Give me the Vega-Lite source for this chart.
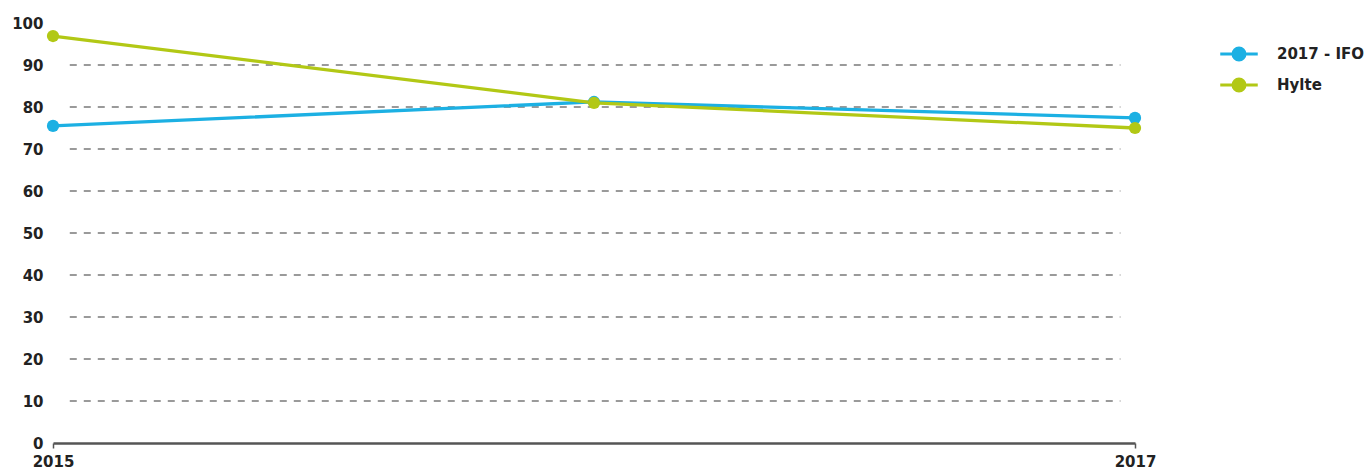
{
  "$schema": "https://vega.github.io/schema/vega-lite/v6.json",
  "width": 1082,
  "height": 420,
  "autosize": {"type": "none"},
  "padding": {"left": 53, "top": 23, "right": 234, "bottom": 27},
  "background": "white",
  "config": {
    "view": {"stroke": null},
    "font": "DejaVu Sans"
  },
  "datasets": {
    "series": [
      {"year": 2015, "value": 75.5, "series": "2017 - IFO"},
      {"year": 2016, "value": 81.2, "series": "2017 - IFO"},
      {"year": 2017, "value": 77.4, "series": "2017 - IFO"},
      {"year": 2015, "value": 96.9, "series": "Hylte"},
      {"year": 2016, "value": 81.0, "series": "Hylte"},
      {"year": 2017, "value": 75.0, "series": "Hylte"}
    ],
    "grid": [
      {"g": 10}, {"g": 20}, {"g": 30}, {"g": 40}, {"g": 50},
      {"g": 60}, {"g": 70}, {"g": 80}, {"g": 90}
    ]
  },
  "layer": [
    {
      "data": {"name": "grid"},
      "mark": {"type": "rule", "color": "#7a7a7a", "strokeWidth": 1.3, "strokeDash": [7, 7]},
      "encoding": {
        "y": {
          "field": "g", "type": "quantitative",
          "scale": {"domain": [0, 100], "nice": false},
          "axis": {
            "title": null, "values": [0, 10, 20, 30, 40, 50, 60, 70, 80, 90, 100],
            "grid": false, "domain": false, "ticks": false,
            "labelFont": "DejaVu Sans", "labelFontWeight": "bold", "labelFontSize": 15,
            "labelColor": "#222222", "labelPadding": 10
          }
        },
        "x": {"datum": 2015.031, "type": "quantitative", "scale": {"domain": [2015, 2017]}},
        "x2": {"datum": 2016.973}
      }
    },
    {
      "data": {"name": "series"},
      "mark": {"type": "line", "strokeWidth": 3.3, "point": {"filled": true, "size": 150, "opacity": 1}},
      "encoding": {
        "x": {
          "field": "year", "type": "quantitative",
          "scale": {"domain": [2015, 2017], "nice": false, "zero": false},
          "axis": {
            "title": null, "values": [2015, 2016, 2017], "format": "d",
            "grid": false, "domainColor": "#555555", "domainWidth": 2.5,
            "tickColor": "#555555", "tickSize": 5, "tickWidth": 1.5,
            "labelFont": "DejaVu Sans", "labelFontWeight": "bold", "labelFontSize": 15,
            "labelColor": "#222222", "labelPadding": 6, "labelFlush": false
          }
        },
        "y": {
          "field": "value", "type": "quantitative",
          "scale": {"domain": [0, 100], "nice": false},
          "axis": {
            "title": null, "values": [0, 10, 20, 30, 40, 50, 60, 70, 80, 90, 100],
            "grid": false, "domain": false, "ticks": false,
            "labelFont": "DejaVu Sans", "labelFontWeight": "bold", "labelFontSize": 15,
            "labelColor": "#222222", "labelPadding": 10
          }
        },
        "color": {
          "field": "series", "type": "nominal",
          "scale": {"domain": ["2017 - IFO", "Hylte"], "range": ["#1cb0e3", "#b2c815"]},
          "legend": {
            "title": null, "orient": "none", "legendX": 1177, "legendY": 22,
            "padding": 0,
            "symbolType": "M-2.5,0 L2.5,0 M-0.8,0 A0.8,0.8 0 1,1 0.8,0 A0.8,0.8 0 1,1 -0.8,0",
            "symbolSize": 225, "symbolStrokeWidth": 3, "symbolFillColor": null,
            "labelFont": "DejaVu Sans", "labelFontWeight": "bold", "labelFontSize": 15,
            "labelColor": "#222222", "labelOffset": 29, "rowPadding": 7
          }
        }
      }
    }
  ]
}
